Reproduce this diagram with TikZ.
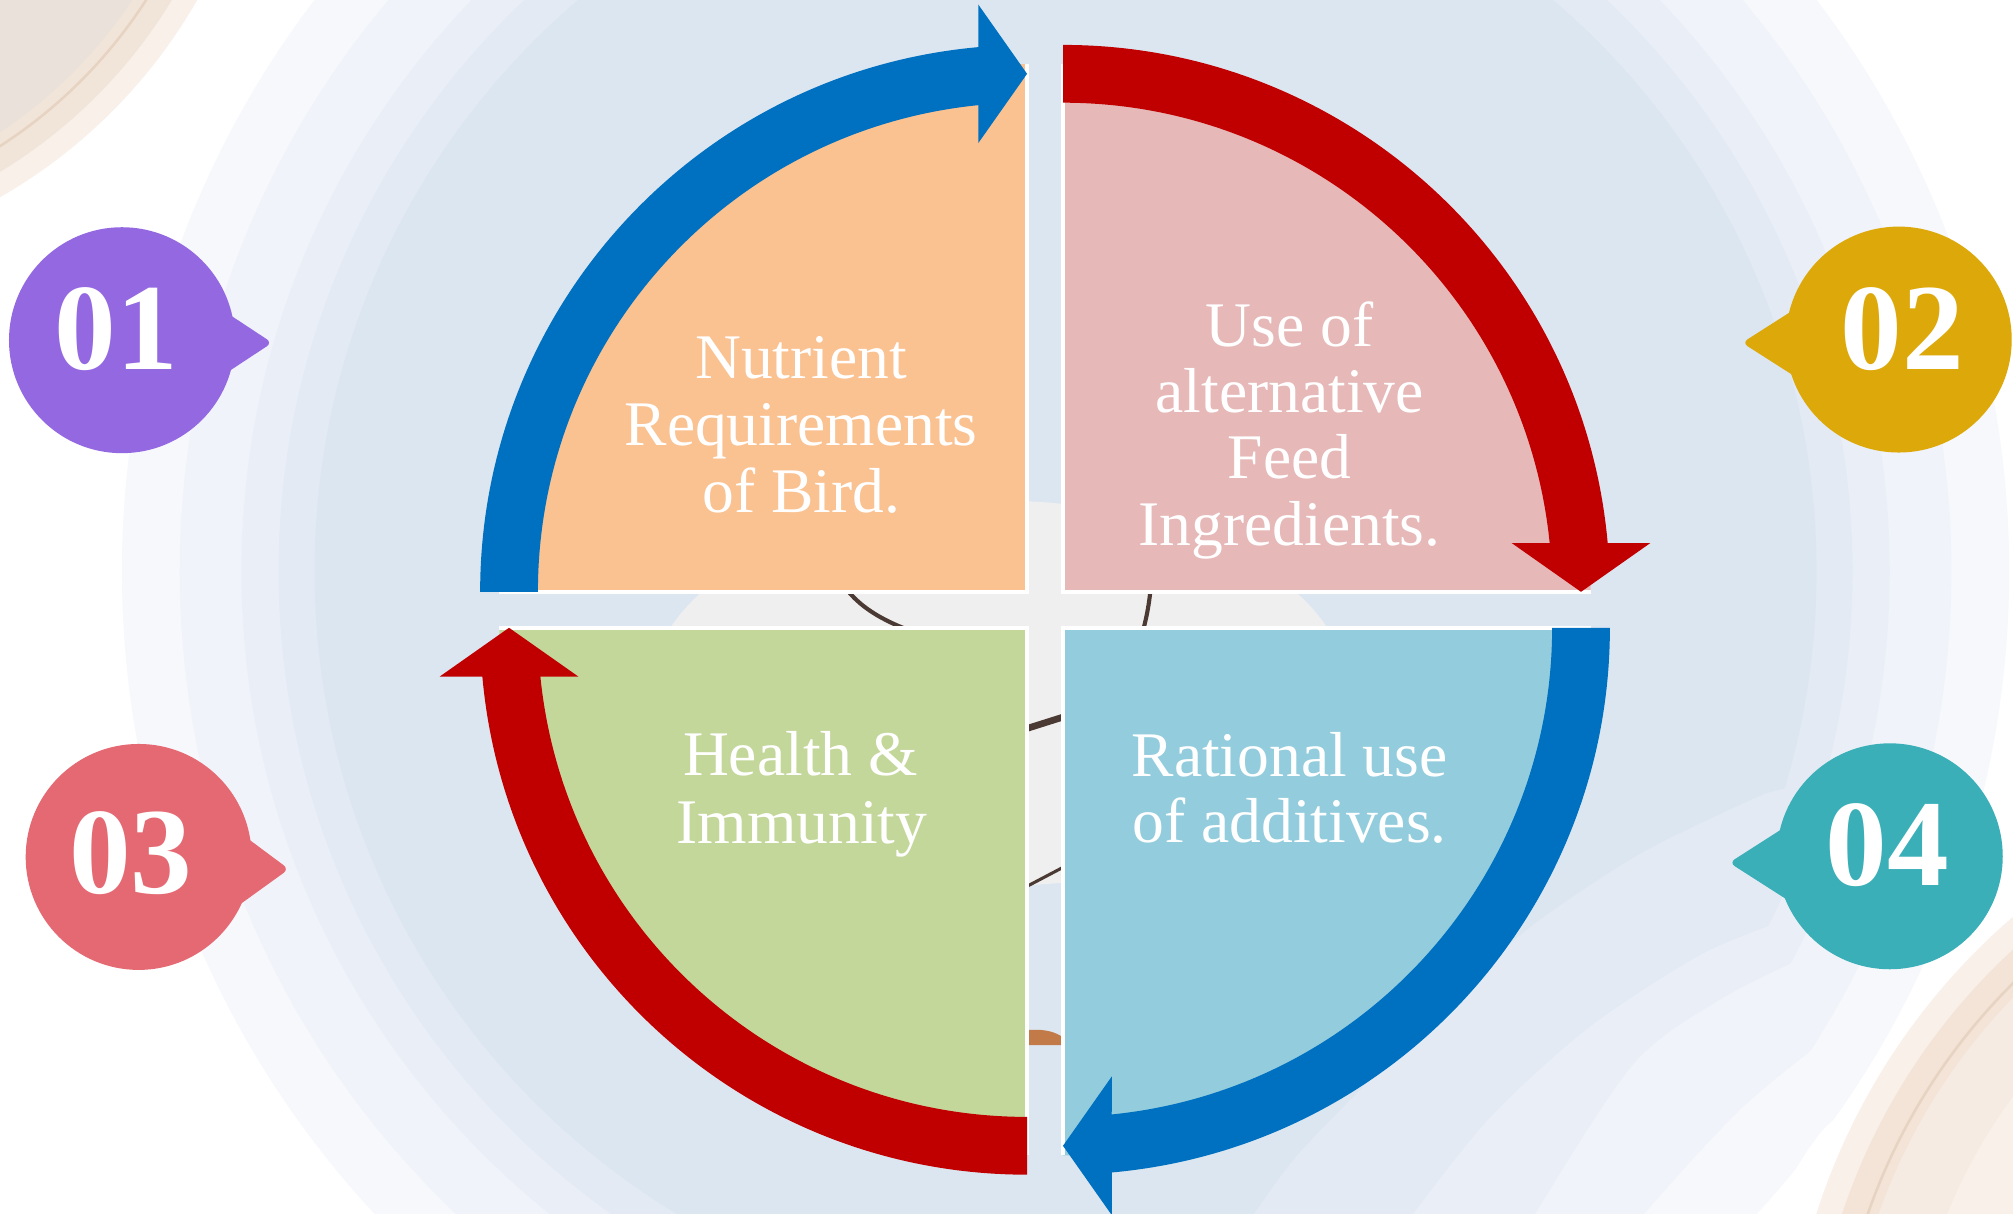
\documentclass[tikz,border=0pt]{standalone}
\usepackage{fontspec}
\setmainfont{Liberation Serif}
\usetikzlibrary{calc}
\definecolor{bandA}{HTML}{DCE6F1}
\definecolor{bandB}{HTML}{E3EAF4}
\definecolor{bandC}{HTML}{EAEFF7}
\definecolor{bandD}{HTML}{F0F3F9}
\definecolor{bandE}{HTML}{F6F8FC}
\definecolor{bodygray}{HTML}{EFEFEF}
\definecolor{inkbrown}{HTML}{4B3A33}
\definecolor{clay}{HTML}{C27A48}
\definecolor{qorange}{HTML}{FAC191}
\definecolor{qpink}{HTML}{E6B8B7}
\definecolor{qgreen}{HTML}{C4D79B}
\definecolor{qaqua}{HTML}{93CDDD}
\definecolor{arrblue}{HTML}{0070C0}
\definecolor{arrred}{HTML}{C00000}
\definecolor{bpurple}{HTML}{9468E1}
\definecolor{bgold}{HTML}{DDA809}
\definecolor{brose}{HTML}{E56973}
\definecolor{bteal}{HTML}{3AAFB8}
\definecolor{peachA}{HTML}{F8F0E9}
\definecolor{peachB}{HTML}{F1E5DA}
\definecolor{peachC}{HTML}{E7D3C2}
\definecolor{peachD}{HTML}{EAE1DA}
\definecolor{peachE}{HTML}{F3E4D7}
\definecolor{peachF}{HTML}{F6EBE2}
\tikzset{
  qtext/.style={text=white, font=\fontsize{24.75}{26}\selectfont, anchor=base, inner sep=0pt},
  digit/.style={text=white, font=\fontsize{48}{48}\selectfont\bfseries, inner sep=0pt},
  edgewhite/.style={draw=white, line width=1.5pt},
  inkline/.style={draw=inkbrown, line cap=round}
}
\begin{document}
\begin{tikzpicture}[x=0.5pt,y=-0.5pt]
\useasboundingbox (0,0) rectangle (1568,945);
\fill[white] (0,0) rectangle (1568,945);

% corner decorations
\begin{scope}
\clip (0,0) rectangle (1568,945);
\fill[peachA] (-205,-205) circle (413);
\fill[peachB] (-205,-205) circle (396);
\draw[peachC, line width=1pt] (-205,-205) circle (379);
\fill[peachD] (-205,-205) circle (370);
\fill[peachA] (1900,1100) circle (509);
\fill[peachE] (1900,1100) circle (490);
\draw[peachC, line width=1pt] (1900,1100) circle (471);
\fill[peachF] (1900,1100) circle (463);
\fill[peachA] (1900,1100) circle (413);
\end{scope}

% background bands
\begin{scope}
\clip (-10,-10) -- (1600,-10) -- (1600,780) -- plot[smooth] coordinates {(1500,820) (1420,880) (1370,962)} -- (-10,962) -- cycle;
\fill[bandE] (830,445) circle (735);
\end{scope}
\begin{scope}
\clip (-10,-10) -- (1600,-10) -- (1600,740) -- plot[smooth] coordinates {(1460,780) (1360,860) (1281,945) (1270,962)} -- (-10,962) -- cycle;
\fill[bandD] (830,445) circle (690);
\end{scope}
\begin{scope}
\clip (-10,-10) -- (1600,-10) -- (1600,700) -- plot[smooth] coordinates {(1423,738) (1346,775) (1273,828) (1196,945) (1188,962)} -- (-10,962) -- cycle;
\fill[bandC] (830,445) circle (642);
\end{scope}
\begin{scope}
\clip (-10,-10) -- (1600,-10) -- (1600,660) -- plot[smooth] coordinates {(1384,719) (1324,744) (1238,800) (1161,870) (1101,945) (1090,962)} -- (-10,962) -- cycle;
\fill[bandB] (830,445) circle (613);
\end{scope}
\begin{scope}
\clip (-10,-10) -- (1600,-10) -- (1600,560) -- plot[smooth] coordinates {(1375,618) (1281,663) (1196,719) (1132,775) (1080,828) (1012,898) (977,945) (965,962)} -- (-10,962) -- cycle;
\fill[bandA] (830,445) circle (585);
\end{scope}

% body
\fill[bodygray] (778,540) ellipse [x radius=272, y radius=150];
\draw[inkline, line width=1.6pt] (652,448) .. controls (664,470) and (685,483) .. (714,493);
\draw[inkline, line width=1.6pt] (897,448) .. controls (896,468) and (893,482) .. (889,496);
\draw[inkline, line width=2.6pt] (795,569) -- (833,557);
\draw[inkline, line width=1.2pt] (795,693) -- (833,673);
\fill[clay] (795,803) .. controls (815,800) and (826,805) .. (831,811) -- (831,814) -- (795,814) -- cycle;

% quadrant corners
\coordinate (O1) at (800,461);
\coordinate (O2) at (828,461);
\coordinate (O3) at (800,489);
\coordinate (O4) at (828,489);

% quadrant slices
\fill[qorange] (O1) -- ($(O1)+(180:411)$) arc[start angle=180, end angle=270, radius=411] -- cycle;
\draw[edgewhite] ($(O1)+(180:411)$) -- (O1) -- ($(O1)+(270:411)$);
\fill[qpink] (O2) -- ($(O2)+(270:411)$) arc[start angle=270, end angle=360, radius=411] -- cycle;
\draw[edgewhite] ($(O2)+(270:411)$) -- (O2) -- ($(O2)+(0:411)$);
\fill[qaqua] (O4) -- ($(O4)+(0:411)$) arc[start angle=0, end angle=90, radius=411] -- cycle;
\draw[edgewhite] ($(O4)+(0:411)$) -- (O4) -- ($(O4)+(90:411)$);
\fill[qgreen] (O3) -- ($(O3)+(90:411)$) arc[start angle=90, end angle=180, radius=411] -- cycle;
\draw[edgewhite] ($(O3)+(90:411)$) -- (O3) -- ($(O3)+(180:411)$);

% curved arrows
\fill[arrblue] ($(O1)+(180:426)$) arc[start angle=180, end angle=264.88, radius=426]
  -- ($(O1)+(-38,-457.5)$) -- ($(O1)+(0,-403.5)$) -- ($(O1)+(-38,-349.5)$)
  -- ($(O1)+(264.28:381)$) arc[start angle=264.28, end angle=180, radius=381] -- cycle;
\fill[arrred] ($(O2)+(270:426)$) arc[start angle=270, end angle=354.88, radius=426]
  -- ($(O2)+(457.5,-38)$) -- ($(O2)+(403.5,0)$) -- ($(O2)+(349.5,-38)$)
  -- ($(O2)+(354.28:381)$) arc[start angle=354.28, end angle=270, radius=381] -- cycle;
\fill[arrblue] ($(O4)+(0:426)$) arc[start angle=0, end angle=84.88, radius=426]
  -- ($(O4)+(38,457.5)$) -- ($(O4)+(0,403.5)$) -- ($(O4)+(38,349.5)$)
  -- ($(O4)+(84.28:381)$) arc[start angle=84.28, end angle=0, radius=381] -- cycle;
\fill[arrred] ($(O3)+(90:426)$) arc[start angle=90, end angle=174.88, radius=426]
  -- ($(O3)+(-457.5,38)$) -- ($(O3)+(-403.5,0)$) -- ($(O3)+(-349.5,38)$)
  -- ($(O3)+(174.28:381)$) arc[start angle=174.28, end angle=90, radius=381] -- cycle;

% quadrant texts
\node[qtext] (t1a) at (624,295) {Nutrient};
\node[qtext] (t1b) at (624,347) {Requirements};
\node[qtext] (t1c) at (624,399.5) {of Bird.};
\node[qtext] (t2a) at (1004.5,270) {Use of};
\node[qtext] (t2b) at (1004.5,321.7) {alternative};
\node[qtext] (t2c) at (1004.5,373) {Feed};
\node[qtext] (t2d) at (1004.5,425) {Ingredients.};
\node[qtext] (t3a) at (623.5,604) {Health \&};
\node[qtext] (t3b) at (624.5,657) {Immunity};
\node[qtext] (t4a) at (1004.5,604.5) {Rational use};
\node[qtext] (t4b) at (1004.5,656) {of additives.};

% badges
\fill[bpurple] (95,265) circle (88);
\fill[bpurple, rounded corners=2.5pt] (168,238) -- (212,267) -- (168,296) -- cycle;
\node[digit] (d1) at (90.5,256) {01};

\fill[bgold] (1479,264.5) circle (88);
\fill[bgold, rounded corners=2.5pt] (1404,237) -- (1357,267) -- (1404,297) -- cycle;
\node[digit] (d2) at (1482,256) {02};

\fill[brose] (108,667.5) circle (88);
\fill[brose, rounded corners=2.5pt] (182,645) -- (225,677) -- (182,708) -- cycle;
\node[digit] (d3) at (102,664.5) {03};

\fill[bteal] (1472,667) circle (88);
\fill[bteal, rounded corners=2.5pt] (1397,640) -- (1347,672) -- (1397,704) -- cycle;
\node[digit] (d4) at (1470,658.5) {04};
\end{tikzpicture}
\end{document}
